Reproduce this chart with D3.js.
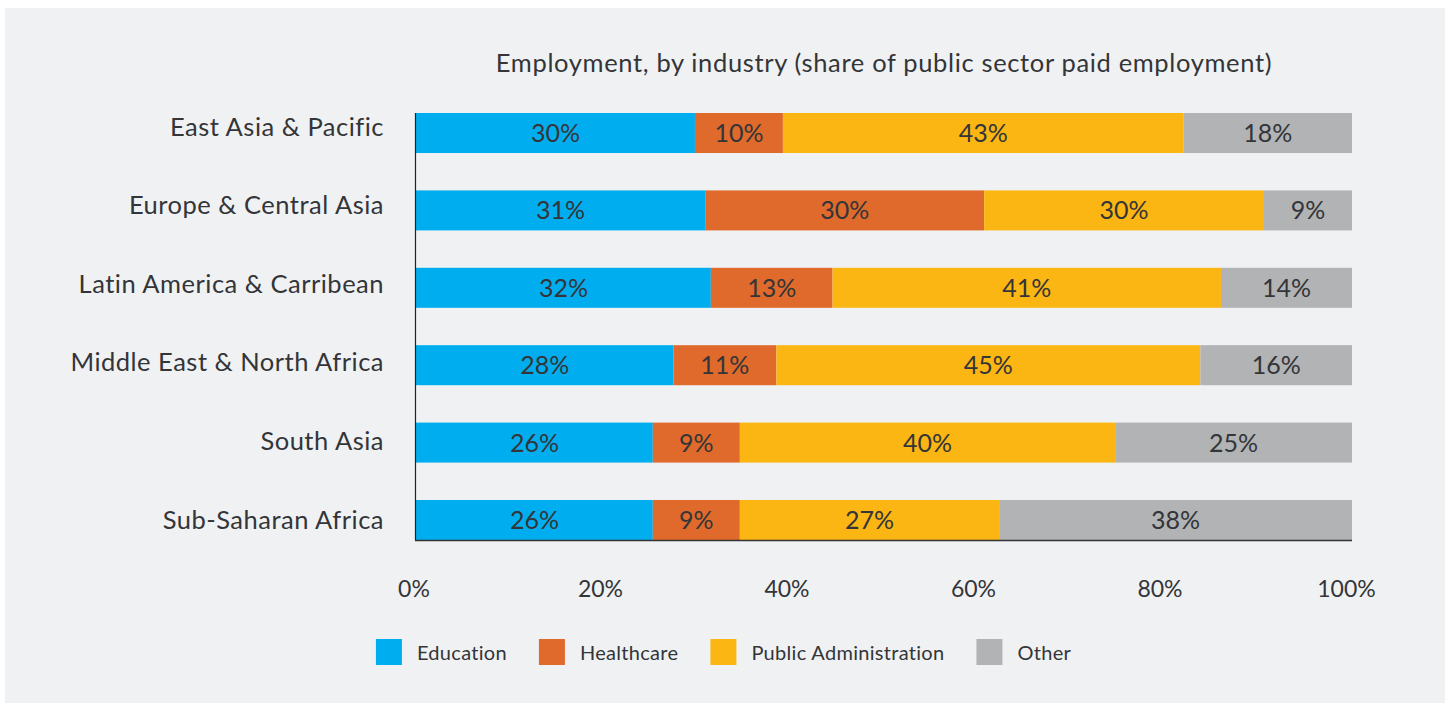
<!DOCTYPE html>
<html>
<head>
<meta charset="utf-8">
<script src="https://cdn.jsdelivr.net/npm/d3@7"></script>
<style>
  html, body { margin: 0; padding: 0; background: #ffffff; }
  svg { display: block; font-family: Lato, "Open Sans", sans-serif; }
</style>
</head>
<body>
<div id="chart"></div>
<script>
// 지역 (y축)
const regions = [
    'East Asia & Pacific',
    'Europe & Central Asia',
    'Latin America & Carribean',
    'Middle East & North Africa',
    'South Asia',
    'Sub-Saharan Africa'
];

// 산업별 비중 (막대 길이, 그림에서 읽은 값)
const education   = [29.8, 30.9, 31.5, 27.5, 25.3, 25.3];
const healthcare  = [9.4, 29.8, 13.0, 11.0, 9.3, 9.3];
const publicAdmin = [42.8, 29.9, 41.5, 45.3, 40.1, 27.7];
const other       = [18.0, 9.4, 14.0, 16.2, 25.3, 37.7];

// 막대 위에 표시된 라벨 값
const educationLabels   = [30, 31, 32, 28, 26, 26];
const healthcareLabels  = [10, 30, 13, 11, 9, 9];
const publicAdminLabels = [43, 30, 41, 45, 40, 27];
const otherLabels       = [18, 9, 14, 16, 25, 38];

const seriesNames = ['Education', 'Healthcare', 'Public Administration', 'Other'];
const seriesColors = ['#00aeef', '#e06a2b', '#fcb614', '#b1b3b5'];
const tickValues = [0, 20, 40, 60, 80, 100];
const title = 'Employment, by industry (share of public sector paid employment)';

const W = 1447, H = 703;
const textColor = '#333538';

// 테이블 구성
const keys = ['edu', 'hc', 'pa', 'oth'];
const valueSets = { edu: education, hc: healthcare, pa: publicAdmin, oth: other };
const labelSets = { edu: educationLabels, hc: healthcareLabels, pa: publicAdminLabels, oth: otherLabels };
const rows = regions.map((r, i) => {
    const row = { region: r, i };
    keys.forEach(k => row[k] = valueSets[k][i]);
    return row;
});
const stacked = d3.stack().keys(keys)(rows);

const svg = d3.select('#chart').append('svg')
    .attr('width', W)
    .attr('height', H);

// 배경 패널
svg.append('rect')
    .attr('x', 5).attr('y', 8)
    .attr('width', 1440).attr('height', 695)
    .attr('fill', '#f0f1f3');

// 스케일
const x = d3.scaleLinear().domain([0, 100]).range([416, 1352]);
const xTicks = d3.scaleLinear().domain([0, 100]).range([413.5, 1346]);
const y = d3.scaleBand().domain(regions).range([113, 540]).paddingInner(0.483).paddingOuter(0);
const yLabels = d3.scalePoint().domain(regions).range([135, 528.3]);

// 제목
svg.append('text')
    .attr('x', (x(0) + x(100)) / 2)
    .attr('y', 71.5)
    .attr('text-anchor', 'middle')
    .style('font-size', '25.5px')
    .style('letter-spacing', '0.65px')
    .style('fill', textColor)
    .text(title);

// 막대
const layer = svg.selectAll('.layer')
    .data(stacked)
    .join('g')
    .attr('class', 'layer')
    .attr('fill', (d, i) => seriesColors[i]);

layer.selectAll('rect')
    .data(d => d)
    .join('rect')
    .attr('x', d => x(d[0]))
    .attr('y', d => y(d.data.region))
    .attr('width', d => x(d[1]) - x(d[0]))
    .attr('height', y.bandwidth());

// 막대 라벨
layer.selectAll('text')
    .data((d, i) => d.map(s => ({ s, key: keys[i] })))
    .join('text')
    .attr('x', d => (x(d.s[0]) + x(d.s[1])) / 2)
    .attr('y', d => y(d.s.data.region) + y.bandwidth() / 2 + 9)
    .attr('text-anchor', 'middle')
    .style('font-size', '25px')
    .style('fill', textColor)
    .text(d => labelSets[d.key][d.s.data.i] + '%');

// y축 라벨
const yAxis = svg.append('g')
    .attr('transform', 'translate(384,0)')
    .call(d3.axisLeft(yLabels).tickSize(0).tickPadding(0));
yAxis.select('.domain').remove();
yAxis.selectAll('text')
    .attr('dy', 0)
    .style('font-family', 'Lato, "Open Sans", sans-serif')
    .style('font-size', '25.5px')
    .style('letter-spacing', '0.5px')
    .style('fill', textColor);

// 축 선
svg.append('line')
    .attr('x1', x(0) - 0.5).attr('x2', x(0) - 0.5)
    .attr('y1', 113).attr('y2', 540.5)
    .attr('stroke', '#222').attr('stroke-width', 1.2);
svg.append('line')
    .attr('x1', x(0) - 1).attr('x2', x(100))
    .attr('y1', 540.5).attr('y2', 540.5)
    .attr('stroke', '#333').attr('stroke-width', 1.5);

// x축 눈금 라벨
const xAxis = svg.append('g')
    .attr('transform', 'translate(0,597)')
    .call(d3.axisBottom(xTicks).tickValues(tickValues).tickFormat(d => d + '%').tickSize(0).tickPadding(0));
xAxis.select('.domain').remove();
xAxis.selectAll('text')
    .attr('dy', 0)
    .style('font-family', 'Lato, "Open Sans", sans-serif')
    .style('font-size', '23px')
    .style('fill', textColor);

// 범례
const legend = svg.append('g');
const items = legend.selectAll('.item')
    .data(seriesNames)
    .join('g')
    .attr('class', 'item');
items.append('rect')
    .attr('width', 26).attr('height', 26)
    .attr('y', 639)
    .attr('fill', (d, i) => seriesColors[i]);
items.append('text')
    .attr('x', 41)
    .attr('y', 660)
    .style('font-size', '20px')
    .style('letter-spacing', '0.3px')
    .style('fill', textColor)
    .text(d => d);

let cursor = 0;
const offsets = [];
items.each(function() {
    offsets.push(cursor);
    const tw = d3.select(this).select('text').node().getComputedTextLength();
    cursor += 41 + tw + 32;
});
const totalW = cursor - 32;
const startX = W / 2 - totalW / 2;
items.attr('transform', (d, i) => `translate(${startX + offsets[i]},0)`);
</script>
</body>
</html>
